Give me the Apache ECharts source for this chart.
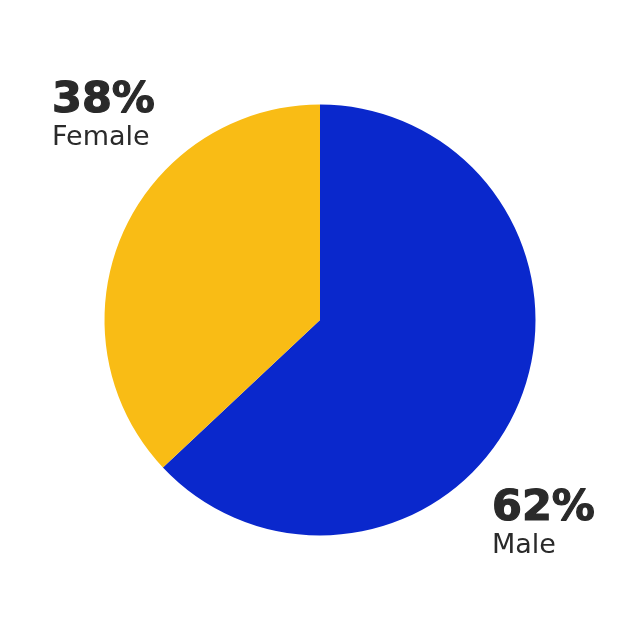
<!DOCTYPE html>
<html><head><meta charset="utf-8">
<script src="https://cdn.jsdelivr.net/npm/echarts@6/dist/echarts.min.js"></script>
<style>html,body{margin:0;padding:0;background:#fff}#c{width:640px;height:640px}</style>
</head><body><div id="c"></div>
<script>
const categories = ['Male', 'Female'];
const values = [63, 37];
const pctLabels = ['62%', '38%'];
const colors = ['#0a28cc', '#f9bc15'];
const labelPos = [[492, 486], [52, 78]];

const chart = echarts.init(document.getElementById('c'));
chart.setOption({
  animation: false,
  series: [{
    type: 'pie',
    center: [320, 320],
    radius: [0, 215.5],
    startAngle: 90,
    clockwise: true,
    silent: true,
    data: categories.map((n, i) => ({ name: n, value: values[i], itemStyle: { color: colors[i] } })),
    label: {
      show: true,
      position: 'outside',
      overflow: 'none',
      width: 200,
      formatter: p => '{v|' + pctLabels[p.dataIndex] + '}\n{n|' + p.name + '}',
      rich: {
        v: { fontFamily: 'DejaVu Sans', fontWeight: 'bold', fontSize: 43, color: '#2a2a2a', lineHeight: 46, width: 200,
             textBorderColor: '#2a2a2a', textBorderWidth: 1.2 },
        n: { fontFamily: 'DejaVu Sans', fontSize: 27, color: '#2a2a2a', lineHeight: 28, width: 200 }
      }
    },
    labelLine: { show: false },
    labelLayout: p => ({ x: labelPos[p.dataIndex][0], y: labelPos[p.dataIndex][1], align: 'left', verticalAlign: 'top' })
  }]
});
</script></body></html>
